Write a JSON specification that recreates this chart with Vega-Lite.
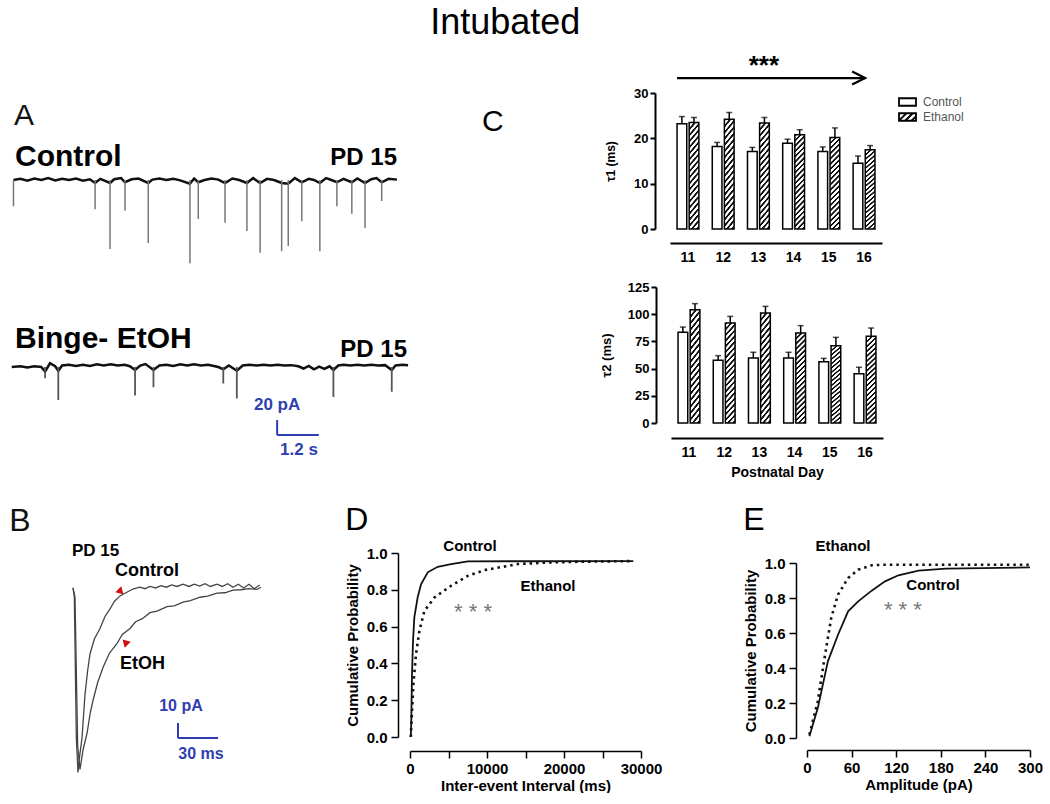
{
  "$schema": "https://vega.github.io/schema/vega-lite/v6.json",
  "padding": {"top": 4, "left": 0, "right": 0, "bottom": 0},
  "background": "white",
  "config": {
    "view": {"stroke": null},
    "font": "Liberation Sans",
    "axis": {"grid": false, "labelFont": "Liberation Sans", "titleFont": "Liberation Sans", "labelFontWeight": "bold", "titleFontWeight": "bold", "labelColor": "#000", "titleColor": "#000", "domainColor": "#000", "tickColor": "#000", "labelFlush": false, "labelOverlap": false},
    "title": {"font": "Liberation Sans", "fontWeight": "normal", "color": "#000"}
  },
  "title": {"text": "Intubated", "fontSize": 36, "anchor": "middle", "offset": 11, "dx": -16},
  "spacing": 11,
  "datasets": {
    "ctrlBase": [
      {"t": 0.10, "v": 0}, {"t": 0.3, "v": 1.5}, {"t": 0.5, "v": -1}, {"t": 0.7, "v": 2}, {"t": 0.9, "v": 0}, {"t": 1.1, "v": 2.5}, {"t": 1.3, "v": -0.5}, {"t": 1.5, "v": 1.5}, {"t": 1.7, "v": 0}, {"t": 1.9, "v": 2}, {"t": 2.1, "v": -1}, {"t": 2.3, "v": 1}, {"t": 2.45, "v": -4}, {"t": 2.6, "v": 1.5}, {"t": 2.88, "v": -4}, {"t": 3.0, "v": 1}, {"t": 3.2, "v": 2.5}, {"t": 3.31, "v": -3}, {"t": 3.5, "v": 1}, {"t": 3.7, "v": 2}, {"t": 3.98, "v": -4}, {"t": 4.1, "v": 0.5}, {"t": 4.3, "v": 2}, {"t": 4.5, "v": 0}, {"t": 4.7, "v": 1.5}, {"t": 4.9, "v": -0.5}, {"t": 5.18, "v": -5}, {"t": 5.3, "v": 2}, {"t": 5.42, "v": -3}, {"t": 5.6, "v": 0}, {"t": 5.8, "v": 2}, {"t": 6.0, "v": 0.5}, {"t": 6.19, "v": -4}, {"t": 6.4, "v": 2}, {"t": 6.6, "v": 0}, {"t": 6.82, "v": -4}, {"t": 7.0, "v": 2.5}, {"t": 7.2, "v": -4}, {"t": 7.4, "v": 1.5}, {"t": 7.6, "v": 0}, {"t": 7.82, "v": -4}, {"t": 8.01, "v": -5}, {"t": 8.2, "v": 2.5}, {"t": 8.4, "v": -3}, {"t": 8.6, "v": 1.5}, {"t": 8.75, "v": 0}, {"t": 8.92, "v": -4}, {"t": 9.1, "v": 2.5}, {"t": 9.25, "v": 0}, {"t": 9.41, "v": -3}, {"t": 9.6, "v": 1.5}, {"t": 9.84, "v": -3}, {"t": 10.0, "v": 2}, {"t": 10.22, "v": -4}, {"t": 10.4, "v": 1}, {"t": 10.55, "v": 2.5}, {"t": 10.70, "v": -3}, {"t": 10.9, "v": 1.5}, {"t": 11.14, "v": 0.5}
    ],
    "ctrlEvents": [
      {"t": 0.10, "amp": -35}, {"t": 2.45, "amp": -39}, {"t": 2.88, "amp": -92}, {"t": 3.31, "amp": -41}, {"t": 3.98, "amp": -84}, {"t": 5.18, "amp": -111}, {"t": 5.42, "amp": -52}, {"t": 6.19, "amp": -57}, {"t": 6.82, "amp": -68}, {"t": 7.20, "amp": -97}, {"t": 7.82, "amp": -95}, {"t": 8.01, "amp": -88}, {"t": 8.40, "amp": -55}, {"t": 8.92, "amp": -95}, {"t": 9.41, "amp": -35}, {"t": 9.84, "amp": -45}, {"t": 10.22, "amp": -64}, {"t": 10.70, "amp": -28}
    ],
    "bingeBase": [
      {"t": 0.05, "v": 0}, {"t": 0.3, "v": 1}, {"t": 0.5, "v": -0.5}, {"t": 0.7, "v": 1}, {"t": 0.9, "v": 0}, {"t": 1.01, "v": -6}, {"t": 1.15, "v": 5}, {"t": 1.3, "v": 1}, {"t": 1.39, "v": -5}, {"t": 1.5, "v": 2}, {"t": 1.7, "v": 3}, {"t": 1.9, "v": 1.5}, {"t": 2.1, "v": 3}, {"t": 2.3, "v": 1.5}, {"t": 2.5, "v": 3.5}, {"t": 2.7, "v": 2}, {"t": 2.9, "v": 3.5}, {"t": 3.1, "v": 2}, {"t": 3.3, "v": 3}, {"t": 3.45, "v": 1}, {"t": 3.6, "v": -4}, {"t": 3.75, "v": 2}, {"t": 3.9, "v": 4}, {"t": 4.13, "v": -4}, {"t": 4.3, "v": 2}, {"t": 4.5, "v": 3}, {"t": 4.7, "v": 1.5}, {"t": 4.9, "v": 3.5}, {"t": 5.1, "v": 2}, {"t": 5.3, "v": 3.5}, {"t": 5.5, "v": 2}, {"t": 5.7, "v": 3}, {"t": 5.9, "v": 1}, {"t": 6.0, "v": 0}, {"t": 6.14, "v": -3}, {"t": 6.3, "v": 2}, {"t": 6.53, "v": -5}, {"t": 6.7, "v": 2}, {"t": 6.9, "v": 3}, {"t": 7.1, "v": 2}, {"t": 7.3, "v": 3}, {"t": 7.5, "v": 2}, {"t": 7.7, "v": 3}, {"t": 7.9, "v": 2}, {"t": 8.1, "v": 2.5}, {"t": 8.3, "v": 1}, {"t": 8.45, "v": -2}, {"t": 8.6, "v": 1.5}, {"t": 8.75, "v": -3}, {"t": 8.9, "v": 0.5}, {"t": 9.05, "v": -2.5}, {"t": 9.2, "v": 1}, {"t": 9.31, "v": -4}, {"t": 9.45, "v": 2}, {"t": 9.6, "v": 3}, {"t": 9.8, "v": 2}, {"t": 10.0, "v": 3}, {"t": 10.2, "v": 2}, {"t": 10.4, "v": 3}, {"t": 10.6, "v": 2}, {"t": 10.8, "v": 2.5}, {"t": 10.99, "v": -4}, {"t": 11.1, "v": 2}, {"t": 11.3, "v": 3}, {"t": 11.46, "v": 2.5}
    ],
    "bingeEvents": [
      {"t": 1.01, "amp": -15}, {"t": 1.39, "amp": -44}, {"t": 3.60, "amp": -38}, {"t": 4.13, "amp": -27}, {"t": 6.14, "amp": -22}, {"t": 6.53, "amp": -42}, {"t": 9.31, "amp": -40}, {"t": 10.99, "amp": -33}
    ],
    "mEPSC": [
      {"trace": "Control", "ms": 0, "pA": 0}, {"trace": "Control", "ms": 1, "pA": -6}, {"trace": "Control", "ms": 2.5, "pA": -100}, {"trace": "Control", "ms": 3.75, "pA": -123}, {"trace": "Control", "ms": 5, "pA": -112}, {"trace": "Control", "ms": 6.75, "pA": -100}, {"trace": "Control", "ms": 9, "pA": -71}, {"trace": "Control", "ms": 11, "pA": -55}, {"trace": "Control", "ms": 12.75, "pA": -44}, {"trace": "Control", "ms": 16, "pA": -34}, {"trace": "Control", "ms": 20.25, "pA": -27}, {"trace": "Control", "ms": 24, "pA": -19}, {"trace": "Control", "ms": 27.75, "pA": -14}, {"trace": "Control", "ms": 31, "pA": -9}, {"trace": "Control", "ms": 35.25, "pA": -5.3}, {"trace": "Control", "ms": 40, "pA": -3}, {"trace": "Control", "ms": 45, "pA": -0.7}, {"trace": "Control", "ms": 50, "pA": 0.5}, {"trace": "Control", "ms": 54, "pA": -0.5}, {"trace": "Control", "ms": 57.75, "pA": 1}, {"trace": "Control", "ms": 62, "pA": 0}, {"trace": "Control", "ms": 66, "pA": 1.5}, {"trace": "Control", "ms": 70, "pA": 0.5}, {"trace": "Control", "ms": 74, "pA": 2}, {"trace": "Control", "ms": 78, "pA": 1}, {"trace": "Control", "ms": 82.5, "pA": 2.5}, {"trace": "Control", "ms": 87, "pA": 1}, {"trace": "Control", "ms": 91, "pA": 2.5}, {"trace": "Control", "ms": 95, "pA": 1.2}, {"trace": "Control", "ms": 99, "pA": 2.8}, {"trace": "Control", "ms": 103, "pA": 1}, {"trace": "Control", "ms": 108, "pA": 2.5}, {"trace": "Control", "ms": 112, "pA": 1}, {"trace": "Control", "ms": 116, "pA": 2.8}, {"trace": "Control", "ms": 120, "pA": 0.5}, {"trace": "Control", "ms": 124, "pA": 2.5}, {"trace": "Control", "ms": 128, "pA": 0}, {"trace": "Control", "ms": 132, "pA": 2.5}, {"trace": "Control", "ms": 136, "pA": -0.5}, {"trace": "Control", "ms": 140, "pA": 2},
      {"trace": "EtOH", "ms": 0, "pA": 0}, {"trace": "EtOH", "ms": 1.5, "pA": -6}, {"trace": "EtOH", "ms": 3.5, "pA": -105}, {"trace": "EtOH", "ms": 5.25, "pA": -121}, {"trace": "EtOH", "ms": 7.5, "pA": -108}, {"trace": "EtOH", "ms": 10.5, "pA": -97}, {"trace": "EtOH", "ms": 13, "pA": -83}, {"trace": "EtOH", "ms": 15, "pA": -75}, {"trace": "EtOH", "ms": 18.5, "pA": -63}, {"trace": "EtOH", "ms": 22.5, "pA": -53}, {"trace": "EtOH", "ms": 27, "pA": -44}, {"trace": "EtOH", "ms": 33, "pA": -37}, {"trace": "EtOH", "ms": 37, "pA": -31}, {"trace": "EtOH", "ms": 42.75, "pA": -27}, {"trace": "EtOH", "ms": 47, "pA": -22.5}, {"trace": "EtOH", "ms": 52, "pA": -20.5}, {"trace": "EtOH", "ms": 57.75, "pA": -16.5}, {"trace": "EtOH", "ms": 63, "pA": -15.5}, {"trace": "EtOH", "ms": 70.5, "pA": -12.5}, {"trace": "EtOH", "ms": 76, "pA": -12}, {"trace": "EtOH", "ms": 82.5, "pA": -9.5}, {"trace": "EtOH", "ms": 88, "pA": -8.5}, {"trace": "EtOH", "ms": 95.25, "pA": -6.2}, {"trace": "EtOH", "ms": 101, "pA": -5.5}, {"trace": "EtOH", "ms": 108, "pA": -3.5}, {"trace": "EtOH", "ms": 114, "pA": -3.2}, {"trace": "EtOH", "ms": 120, "pA": -1.5}, {"trace": "EtOH", "ms": 126, "pA": -1.2}, {"trace": "EtOH", "ms": 132, "pA": -0.5}, {"trace": "EtOH", "ms": 138, "pA": -1}, {"trace": "EtOH", "ms": 141, "pA": 0.5}
    ],
    "tau1": [
      {"day": 11, "group": "Control", "tau": 23.2, "upper": 24.8}, {"day": 11, "group": "Ethanol", "tau": 23.5, "upper": 24.6},
      {"day": 12, "group": "Control", "tau": 18.2, "upper": 19.1}, {"day": 12, "group": "Ethanol", "tau": 24.2, "upper": 25.7},
      {"day": 13, "group": "Control", "tau": 17.1, "upper": 18.0}, {"day": 13, "group": "Ethanol", "tau": 23.4, "upper": 24.6},
      {"day": 14, "group": "Control", "tau": 18.9, "upper": 19.8}, {"day": 14, "group": "Ethanol", "tau": 20.8, "upper": 21.9},
      {"day": 15, "group": "Control", "tau": 17.1, "upper": 18.1}, {"day": 15, "group": "Ethanol", "tau": 20.2, "upper": 22.3},
      {"day": 16, "group": "Control", "tau": 14.5, "upper": 16.1}, {"day": 16, "group": "Ethanol", "tau": 17.5, "upper": 18.4}
    ],
    "tau2": [
      {"day": 11, "group": "Control", "tau": 83.3, "upper": 88.2}, {"day": 11, "group": "Ethanol", "tau": 104.2, "upper": 109.7},
      {"day": 12, "group": "Control", "tau": 57.6, "upper": 61.9}, {"day": 12, "group": "Ethanol", "tau": 91.9, "upper": 98.0},
      {"day": 13, "group": "Control", "tau": 59.7, "upper": 65.0}, {"day": 13, "group": "Ethanol", "tau": 101.1, "upper": 107.2},
      {"day": 14, "group": "Control", "tau": 59.7, "upper": 65.0}, {"day": 14, "group": "Ethanol", "tau": 82.7, "upper": 89.5},
      {"day": 15, "group": "Control", "tau": 56.4, "upper": 59.4}, {"day": 15, "group": "Ethanol", "tau": 71.0, "upper": 78.7},
      {"day": 16, "group": "Control", "tau": 45.3, "upper": 51.2}, {"day": 16, "group": "Ethanol", "tau": 79.7, "upper": 87.3}
    ],
    "iei": [
      {"group": "Control", "ms": 100, "p": 0.0}, {"group": "Control", "ms": 130, "p": 0.03}, {"group": "Control", "ms": 174, "p": 0.10}, {"group": "Control", "ms": 260, "p": 0.34}, {"group": "Control", "ms": 390, "p": 0.52}, {"group": "Control", "ms": 564, "p": 0.65}, {"group": "Control", "ms": 999, "p": 0.76}, {"group": "Control", "ms": 1433, "p": 0.83}, {"group": "Control", "ms": 2301, "p": 0.895}, {"group": "Control", "ms": 3604, "p": 0.925}, {"group": "Control", "ms": 5340, "p": 0.94}, {"group": "Control", "ms": 7511, "p": 0.955}, {"group": "Control", "ms": 29000, "p": 0.956},
      {"group": "Ethanol", "ms": 100, "p": 0.0}, {"group": "Ethanol", "ms": 217, "p": 0.10}, {"group": "Ethanol", "ms": 434, "p": 0.285}, {"group": "Ethanol", "ms": 781, "p": 0.45}, {"group": "Ethanol", "ms": 1216, "p": 0.576}, {"group": "Ethanol", "ms": 1867, "p": 0.685}, {"group": "Ethanol", "ms": 3169, "p": 0.758}, {"group": "Ethanol", "ms": 5340, "p": 0.822}, {"group": "Ethanol", "ms": 7511, "p": 0.876}, {"group": "Ethanol", "ms": 9682, "p": 0.907}, {"group": "Ethanol", "ms": 14024, "p": 0.94}, {"group": "Ethanol", "ms": 18365, "p": 0.949}, {"group": "Ethanol", "ms": 22707, "p": 0.953}, {"group": "Ethanol", "ms": 29000, "p": 0.956}
    ],
    "amp": [
      {"group": "Control", "pA": 3.2, "p": 0.01}, {"group": "Control", "pA": 14.5, "p": 0.171}, {"group": "Control", "pA": 28.1, "p": 0.438}, {"group": "Control", "pA": 41.7, "p": 0.59}, {"group": "Control", "pA": 55.3, "p": 0.724}, {"group": "Control", "pA": 68.9, "p": 0.781}, {"group": "Control", "pA": 87, "p": 0.842}, {"group": "Control", "pA": 105, "p": 0.895}, {"group": "Control", "pA": 123, "p": 0.93}, {"group": "Control", "pA": 150, "p": 0.956}, {"group": "Control", "pA": 187, "p": 0.968}, {"group": "Control", "pA": 300, "p": 0.975},
      {"group": "Ethanol", "pA": 3.2, "p": 0.019}, {"group": "Ethanol", "pA": 14.5, "p": 0.21}, {"group": "Ethanol", "pA": 23.6, "p": 0.457}, {"group": "Ethanol", "pA": 32.6, "p": 0.686}, {"group": "Ethanol", "pA": 41.7, "p": 0.819}, {"group": "Ethanol", "pA": 55.3, "p": 0.914}, {"group": "Ethanol", "pA": 68.9, "p": 0.962}, {"group": "Ethanol", "pA": 87, "p": 0.987}, {"group": "Ethanol", "pA": 105, "p": 0.99}, {"group": "Ethanol", "pA": 300, "p": 0.99}
    ],
    "legendRows": [{"group": "Control"}, {"group": "Ethanol"}]
  },
  "vconcat": [
    {
      "spacing": 16,
      "hconcat": [
        {
          "width": 466, "height": 177,
          "layer": [
            {"data": {"name": "ctrlBase"}, "mark": {"type": "line", "color": "#111", "strokeWidth": 2.5},
             "encoding": {"x": {"field": "t", "type": "quantitative", "scale": {"domain": [-0.288, 13.127], "nice": false, "zero": false}, "axis": null},
                          "y": {"field": "v", "type": "quantitative", "scale": {"domain": [-120, 116], "nice": false, "zero": false}, "axis": null}}},
            {"data": {"name": "ctrlEvents"}, "mark": {"type": "rule", "color": "#777", "strokeWidth": 1.5},
             "encoding": {"x": {"field": "t", "type": "quantitative"}, "y": {"field": "amp", "type": "quantitative"}, "y2": {"datum": 0}}},
            {"data": {"values": [{}]}, "mark": {"type": "text", "text": "A", "fontSize": 30, "align": "center", "baseline": "middle", "color": "#111"},
             "encoding": {"x": {"datum": 0.4}, "y": {"datum": 85}}},
            {"data": {"values": [{}]}, "mark": {"type": "text", "text": "Control", "fontSize": 30, "fontWeight": "bold", "align": "left", "baseline": "middle", "color": "#000"},
             "encoding": {"x": {"datum": 0.144}, "y": {"datum": 30.7}}},
            {"data": {"values": [{}]}, "mark": {"type": "text", "text": "PD 15", "fontSize": 24, "fontWeight": "bold", "align": "right", "baseline": "middle", "color": "#000"},
             "encoding": {"x": {"datum": 11.14}, "y": {"datum": 29.3}}}
          ]
        },
        {
          "width": 212, "height": 136,
          "title": {"text": "C", "anchor": "start", "frame": "group", "fontSize": 30, "dx": -188, "dy": 84, "offset": 0},
          "data": {"name": "tau1"},
          "layer": [
            {"transform": [{"filter": "datum.group === 'Control'"}],
             "mark": {"type": "bar", "fill": "white", "stroke": "black", "strokeWidth": 1.5},
             "encoding": {
               "x": {"field": "day", "type": "ordinal", "scale": {"paddingInner": 0.38, "paddingOuter": 0.2}, "axis": {"title": null, "labelAngle": 0, "ticks": false, "offset": 14, "domainWidth": 2, "labelFontSize": 14, "labelPadding": 7, "labelOverlap": false}},
               "xOffset": {"field": "group", "type": "nominal", "scale": {"domain": ["Control", "Ethanol"], "paddingInner": 0.2}},
               "y": {"field": "tau", "type": "quantitative", "scale": {"domain": [0, 30], "nice": false}, "axis": {"title": "τ1 (ms)", "values": [0, 10, 20, 30], "tickCount": 20, "offset": 15, "tickSize": 5, "tickWidth": 2, "domainWidth": 2, "labelFontSize": 13, "titleFontSize": 12, "labelPadding": 2, "titlePadding": 16, "labelOverlap": false}}
             }},
            {"transform": [{"filter": "datum.group === 'Ethanol'"}],
             "mark": {"type": "bar", "stroke": "black", "strokeWidth": 1.5, "fill": {"gradient": "linear", "x1": 0, "y1": 0, "x2": 0.12, "y2": 1.12, "stops": [{"offset": 0, "color": "#111"}, {"offset": 0.016, "color": "#111"}, {"offset": 0.022, "color": "#fff"}, {"offset": 0.044, "color": "#fff"}, {"offset": 0.05, "color": "#111"}, {"offset": 0.066, "color": "#111"}, {"offset": 0.072, "color": "#fff"}, {"offset": 0.094, "color": "#fff"}, {"offset": 0.1, "color": "#111"}, {"offset": 0.116, "color": "#111"}, {"offset": 0.122, "color": "#fff"}, {"offset": 0.144, "color": "#fff"}, {"offset": 0.15, "color": "#111"}, {"offset": 0.166, "color": "#111"}, {"offset": 0.172, "color": "#fff"}, {"offset": 0.194, "color": "#fff"}, {"offset": 0.2, "color": "#111"}, {"offset": 0.216, "color": "#111"}, {"offset": 0.222, "color": "#fff"}, {"offset": 0.244, "color": "#fff"}, {"offset": 0.25, "color": "#111"}, {"offset": 0.266, "color": "#111"}, {"offset": 0.272, "color": "#fff"}, {"offset": 0.294, "color": "#fff"}, {"offset": 0.3, "color": "#111"}, {"offset": 0.316, "color": "#111"}, {"offset": 0.322, "color": "#fff"}, {"offset": 0.344, "color": "#fff"}, {"offset": 0.35, "color": "#111"}, {"offset": 0.366, "color": "#111"}, {"offset": 0.372, "color": "#fff"}, {"offset": 0.394, "color": "#fff"}, {"offset": 0.4, "color": "#111"}, {"offset": 0.416, "color": "#111"}, {"offset": 0.422, "color": "#fff"}, {"offset": 0.444, "color": "#fff"}, {"offset": 0.45, "color": "#111"}, {"offset": 0.466, "color": "#111"}, {"offset": 0.472, "color": "#fff"}, {"offset": 0.494, "color": "#fff"}, {"offset": 0.5, "color": "#111"}, {"offset": 0.516, "color": "#111"}, {"offset": 0.522, "color": "#fff"}, {"offset": 0.544, "color": "#fff"}, {"offset": 0.55, "color": "#111"}, {"offset": 0.566, "color": "#111"}, {"offset": 0.572, "color": "#fff"}, {"offset": 0.594, "color": "#fff"}, {"offset": 0.6, "color": "#111"}, {"offset": 0.616, "color": "#111"}, {"offset": 0.622, "color": "#fff"}, {"offset": 0.644, "color": "#fff"}, {"offset": 0.65, "color": "#111"}, {"offset": 0.666, "color": "#111"}, {"offset": 0.672, "color": "#fff"}, {"offset": 0.694, "color": "#fff"}, {"offset": 0.7, "color": "#111"}, {"offset": 0.716, "color": "#111"}, {"offset": 0.722, "color": "#fff"}, {"offset": 0.744, "color": "#fff"}, {"offset": 0.75, "color": "#111"}, {"offset": 0.766, "color": "#111"}, {"offset": 0.772, "color": "#fff"}, {"offset": 0.794, "color": "#fff"}, {"offset": 0.8, "color": "#111"}, {"offset": 0.816, "color": "#111"}, {"offset": 0.822, "color": "#fff"}, {"offset": 0.844, "color": "#fff"}, {"offset": 0.85, "color": "#111"}, {"offset": 0.866, "color": "#111"}, {"offset": 0.872, "color": "#fff"}, {"offset": 0.894, "color": "#fff"}, {"offset": 0.9, "color": "#111"}, {"offset": 0.916, "color": "#111"}, {"offset": 0.922, "color": "#fff"}, {"offset": 0.944, "color": "#fff"}, {"offset": 0.95, "color": "#111"}, {"offset": 0.966, "color": "#111"}, {"offset": 0.972, "color": "#fff"}, {"offset": 1, "color": "#fff"}]}},
             "encoding": {
               "x": {"field": "day", "type": "ordinal"},
               "xOffset": {"field": "group", "type": "nominal"},
               "y": {"field": "tau", "type": "quantitative"}
             }},
            {"mark": {"type": "rule", "strokeWidth": 1.5, "color": "black"},
             "encoding": {"x": {"field": "day", "type": "ordinal"}, "xOffset": {"field": "group", "type": "nominal"}, "y": {"field": "tau", "type": "quantitative"}, "y2": {"field": "upper"}}},
            {"mark": {"type": "tick", "orient": "horizontal", "size": 6, "thickness": 1.5, "color": "black"},
             "encoding": {"x": {"field": "day", "type": "ordinal"}, "xOffset": {"field": "group", "type": "nominal"}, "y": {"field": "upper", "type": "quantitative"}}},
            {"data": {"values": [{}]}, "mark": {"type": "rule", "color": "black", "strokeWidth": 2.2},
             "encoding": {"x": {"datum": 11, "type": "ordinal", "bandPosition": 0}, "x2": {"datum": 16, "bandPosition": 0.55}, "y": {"datum": 33.3}}},
            {"data": {"values": [{}]}, "mark": {"type": "point", "shape": "M-2,-1L0,0L-2,1", "filled": false, "stroke": "black", "strokeWidth": 2.2, "size": 169, "opacity": 1},
             "encoding": {"x": {"datum": 16, "type": "ordinal", "bandPosition": 0.55}, "y": {"datum": 33.3}}},
            {"data": {"values": [{}]}, "mark": {"type": "text", "text": "***", "fontSize": 26, "fontWeight": "bold", "align": "center", "baseline": "middle", "color": "#000"},
             "encoding": {"x": {"datum": 13, "type": "ordinal", "bandPosition": 0.75}, "y": {"datum": 36.0}}}
          ]
        },
        {
          "width": 70, "height": 33,
          "data": {"name": "legendRows"},
          "layer": [
            {"transform": [{"filter": "datum.group === 'Control'"}],
             "mark": {"type": "bar", "fill": "white", "stroke": "black", "strokeWidth": 1.8},
             "encoding": {
               "y": {"field": "group", "type": "nominal", "scale": {"domain": ["Control", "Ethanol"], "paddingInner": 0.5, "paddingOuter": 0.35}, "axis": null},
               "x": {"datum": 0, "type": "quantitative", "scale": {"domain": [0, 70], "nice": false, "zero": false}, "axis": null},
               "x2": {"datum": 17}
             }},
            {"transform": [{"filter": "datum.group === 'Ethanol'"}],
             "mark": {"type": "bar", "stroke": "black", "strokeWidth": 1.8, "fill": {"gradient": "linear", "x1": 0, "y1": 0, "x2": 1.25, "y2": 0.56, "stops": [{"offset": 0, "color": "#111"}, {"offset": 0.08, "color": "#111"}, {"offset": 0.11, "color": "#fff"}, {"offset": 0.22, "color": "#fff"}, {"offset": 0.25, "color": "#111"}, {"offset": 0.33, "color": "#111"}, {"offset": 0.36, "color": "#fff"}, {"offset": 0.47, "color": "#fff"}, {"offset": 0.5, "color": "#111"}, {"offset": 0.58, "color": "#111"}, {"offset": 0.61, "color": "#fff"}, {"offset": 0.72, "color": "#fff"}, {"offset": 0.75, "color": "#111"}, {"offset": 0.83, "color": "#111"}, {"offset": 0.86, "color": "#fff"}, {"offset": 1, "color": "#fff"}]}},
             "encoding": {
               "y": {"field": "group", "type": "nominal"},
               "x": {"datum": 0, "type": "quantitative"},
               "x2": {"datum": 17}
             }},
            {"mark": {"type": "text", "align": "left", "baseline": "middle", "fontSize": 12, "color": "#555", "font": "Liberation Sans"},
             "encoding": {
               "y": {"field": "group", "type": "nominal"},
               "x": {"datum": 24, "type": "quantitative"},
               "text": {"field": "group", "type": "nominal"}
             }}
          ]
        }
      ]
    },
    {
      "spacing": 186,
      "hconcat": [
        {
          "width": 406, "height": 206,
          "layer": [
            {"data": {"name": "bingeBase"}, "mark": {"type": "line", "color": "#111", "strokeWidth": 2.5},
             "encoding": {"x": {"field": "t", "type": "quantitative", "scale": {"domain": [-0.288, 11.4], "nice": false, "zero": false}, "axis": null},
                          "y": {"field": "v", "type": "quantitative", "scale": {"domain": [-168, 106.7], "nice": false, "zero": false}, "axis": null}}},
            {"data": {"name": "bingeEvents"}, "mark": {"type": "rule", "color": "#555", "strokeWidth": 1.8},
             "encoding": {"x": {"field": "t", "type": "quantitative"}, "y": {"field": "amp", "type": "quantitative"}, "y2": {"datum": 0}}},
            {"data": {"values": [{}]}, "mark": {"type": "text", "text": "Binge- EtOH", "fontSize": 30, "fontWeight": "bold", "align": "left", "baseline": "middle", "color": "#000"},
             "encoding": {"x": {"datum": 0.144}, "y": {"datum": 37.3}}},
            {"data": {"values": [{}]}, "mark": {"type": "text", "text": "PD 15", "fontSize": 24, "fontWeight": "bold", "align": "right", "baseline": "middle", "color": "#000"},
             "encoding": {"x": {"datum": 11.43}, "y": {"datum": 22.7}}},
            {"data": {"values": [{}]}, "mark": {"type": "rule", "color": "#2f3fb0", "strokeWidth": 2},
             "encoding": {"x": {"datum": 7.69}, "y": {"datum": -70.7}, "y2": {"datum": -90.7}}},
            {"data": {"values": [{}]}, "mark": {"type": "rule", "color": "#2f3fb0", "strokeWidth": 2},
             "encoding": {"x": {"datum": 7.69}, "x2": {"datum": 8.89}, "y": {"datum": -90.7}}},
            {"data": {"values": [{}]}, "mark": {"type": "text", "text": "20 pA", "fontSize": 17, "fontWeight": "bold", "align": "center", "baseline": "middle", "color": "#2f3fb0"},
             "encoding": {"x": {"datum": 7.69}, "y": {"datum": -50.7}}},
            {"data": {"values": [{}]}, "mark": {"type": "text", "text": "1.2 s", "fontSize": 17, "fontWeight": "bold", "align": "center", "baseline": "middle", "color": "#2f3fb0"},
             "encoding": {"x": {"datum": 8.32}, "y": {"datum": -110.7}}}
          ]
        },
        {
          "width": 212, "height": 136,
          "data": {"name": "tau2"},
          "layer": [
            {"transform": [{"filter": "datum.group === 'Control'"}],
             "mark": {"type": "bar", "fill": "white", "stroke": "black", "strokeWidth": 1.5},
             "encoding": {
               "x": {"field": "day", "type": "ordinal", "scale": {"paddingInner": 0.38, "paddingOuter": 0.2}, "axis": {"title": "Postnatal Day", "titleFontSize": 14, "titlePadding": 6, "labelAngle": 0, "ticks": false, "offset": 15, "domainWidth": 2, "labelFontSize": 14, "labelPadding": 7, "labelOverlap": false}},
               "xOffset": {"field": "group", "type": "nominal", "scale": {"domain": ["Control", "Ethanol"], "paddingInner": 0.2}},
               "y": {"field": "tau", "type": "quantitative", "scale": {"domain": [0, 125], "nice": false}, "axis": {"title": "τ2 (ms)", "values": [0, 25, 50, 75, 100, 125], "tickCount": 20, "offset": 15, "tickSize": 5, "tickWidth": 2, "domainWidth": 2, "labelFontSize": 13, "titleFontSize": 13, "labelPadding": 2, "titlePadding": 14, "labelOverlap": false}}
             }},
            {"transform": [{"filter": "datum.group === 'Ethanol'"}],
             "mark": {"type": "bar", "stroke": "black", "strokeWidth": 1.5, "fill": {"gradient": "linear", "x1": 0, "y1": 0, "x2": 0.12, "y2": 1.12, "stops": [{"offset": 0, "color": "#111"}, {"offset": 0.016, "color": "#111"}, {"offset": 0.022, "color": "#fff"}, {"offset": 0.044, "color": "#fff"}, {"offset": 0.05, "color": "#111"}, {"offset": 0.066, "color": "#111"}, {"offset": 0.072, "color": "#fff"}, {"offset": 0.094, "color": "#fff"}, {"offset": 0.1, "color": "#111"}, {"offset": 0.116, "color": "#111"}, {"offset": 0.122, "color": "#fff"}, {"offset": 0.144, "color": "#fff"}, {"offset": 0.15, "color": "#111"}, {"offset": 0.166, "color": "#111"}, {"offset": 0.172, "color": "#fff"}, {"offset": 0.194, "color": "#fff"}, {"offset": 0.2, "color": "#111"}, {"offset": 0.216, "color": "#111"}, {"offset": 0.222, "color": "#fff"}, {"offset": 0.244, "color": "#fff"}, {"offset": 0.25, "color": "#111"}, {"offset": 0.266, "color": "#111"}, {"offset": 0.272, "color": "#fff"}, {"offset": 0.294, "color": "#fff"}, {"offset": 0.3, "color": "#111"}, {"offset": 0.316, "color": "#111"}, {"offset": 0.322, "color": "#fff"}, {"offset": 0.344, "color": "#fff"}, {"offset": 0.35, "color": "#111"}, {"offset": 0.366, "color": "#111"}, {"offset": 0.372, "color": "#fff"}, {"offset": 0.394, "color": "#fff"}, {"offset": 0.4, "color": "#111"}, {"offset": 0.416, "color": "#111"}, {"offset": 0.422, "color": "#fff"}, {"offset": 0.444, "color": "#fff"}, {"offset": 0.45, "color": "#111"}, {"offset": 0.466, "color": "#111"}, {"offset": 0.472, "color": "#fff"}, {"offset": 0.494, "color": "#fff"}, {"offset": 0.5, "color": "#111"}, {"offset": 0.516, "color": "#111"}, {"offset": 0.522, "color": "#fff"}, {"offset": 0.544, "color": "#fff"}, {"offset": 0.55, "color": "#111"}, {"offset": 0.566, "color": "#111"}, {"offset": 0.572, "color": "#fff"}, {"offset": 0.594, "color": "#fff"}, {"offset": 0.6, "color": "#111"}, {"offset": 0.616, "color": "#111"}, {"offset": 0.622, "color": "#fff"}, {"offset": 0.644, "color": "#fff"}, {"offset": 0.65, "color": "#111"}, {"offset": 0.666, "color": "#111"}, {"offset": 0.672, "color": "#fff"}, {"offset": 0.694, "color": "#fff"}, {"offset": 0.7, "color": "#111"}, {"offset": 0.716, "color": "#111"}, {"offset": 0.722, "color": "#fff"}, {"offset": 0.744, "color": "#fff"}, {"offset": 0.75, "color": "#111"}, {"offset": 0.766, "color": "#111"}, {"offset": 0.772, "color": "#fff"}, {"offset": 0.794, "color": "#fff"}, {"offset": 0.8, "color": "#111"}, {"offset": 0.816, "color": "#111"}, {"offset": 0.822, "color": "#fff"}, {"offset": 0.844, "color": "#fff"}, {"offset": 0.85, "color": "#111"}, {"offset": 0.866, "color": "#111"}, {"offset": 0.872, "color": "#fff"}, {"offset": 0.894, "color": "#fff"}, {"offset": 0.9, "color": "#111"}, {"offset": 0.916, "color": "#111"}, {"offset": 0.922, "color": "#fff"}, {"offset": 0.944, "color": "#fff"}, {"offset": 0.95, "color": "#111"}, {"offset": 0.966, "color": "#111"}, {"offset": 0.972, "color": "#fff"}, {"offset": 1, "color": "#fff"}]}},
             "encoding": {
               "x": {"field": "day", "type": "ordinal"},
               "xOffset": {"field": "group", "type": "nominal"},
               "y": {"field": "tau", "type": "quantitative"}
             }},
            {"mark": {"type": "rule", "strokeWidth": 1.5, "color": "black"},
             "encoding": {"x": {"field": "day", "type": "ordinal"}, "xOffset": {"field": "group", "type": "nominal"}, "y": {"field": "tau", "type": "quantitative"}, "y2": {"field": "upper"}}},
            {"mark": {"type": "tick", "orient": "horizontal", "size": 6, "thickness": 1.5, "color": "black"},
             "encoding": {"x": {"field": "day", "type": "ordinal"}, "xOffset": {"field": "group", "type": "nominal"}, "y": {"field": "upper", "type": "quantitative"}}}
          ]
        }
      ]
    },
    {
      "spacing": 81,
      "hconcat": [
        {
          "width": 264, "height": 233,
          "layer": [
            {"data": {"name": "mEPSC"}, "mark": {"type": "line", "color": "#444", "strokeWidth": 1.3},
             "encoding": {"x": {"field": "ms", "type": "quantitative", "scale": {"domain": [-54.75, 143.25], "nice": false, "zero": false}, "axis": null},
                          "y": {"field": "pA", "type": "quantitative", "scale": {"domain": [-132, 23.3], "nice": false, "zero": false}, "axis": null},
                          "detail": {"field": "trace", "type": "nominal"}}},
            {"data": {"values": [{}]}, "mark": {"type": "point", "shape": "triangle", "filled": true, "color": "#d01010", "size": 70, "angle": 135, "opacity": 1},
             "encoding": {"x": {"datum": 35.25}, "y": {"datum": -2}}},
            {"data": {"values": [{}]}, "mark": {"type": "point", "shape": "triangle", "filled": true, "color": "#d01010", "size": 70, "angle": 315, "opacity": 1},
             "encoding": {"x": {"datum": 39.75}, "y": {"datum": -36.7}}},
            {"data": {"values": [{}]}, "mark": {"type": "text", "text": "B", "fontSize": 32, "align": "center", "baseline": "middle", "color": "#111"},
             "encoding": {"x": {"datum": -39.75}, "y": {"datum": 44.7}}},
            {"data": {"values": [{}]}, "mark": {"type": "text", "text": "PD 15", "fontSize": 17, "fontWeight": "bold", "align": "left", "baseline": "middle", "color": "#000"},
             "encoding": {"x": {"datum": -0.75}, "y": {"datum": 24.7}}},
            {"data": {"values": [{}]}, "mark": {"type": "text", "text": "Control", "fontSize": 18, "fontWeight": "bold", "align": "left", "baseline": "middle", "color": "#000"},
             "encoding": {"x": {"datum": 31.5}, "y": {"datum": 11.3}}},
            {"data": {"values": [{}]}, "mark": {"type": "text", "text": "EtOH", "fontSize": 18, "fontWeight": "bold", "align": "left", "baseline": "middle", "color": "#000"},
             "encoding": {"x": {"datum": 35.25}, "y": {"datum": -50.7}}},
            {"data": {"values": [{}]}, "mark": {"type": "rule", "color": "#2f3fb0", "strokeWidth": 2},
             "encoding": {"x": {"datum": 78.75}, "y": {"datum": -90}, "y2": {"datum": -100}}},
            {"data": {"values": [{}]}, "mark": {"type": "rule", "color": "#2f3fb0", "strokeWidth": 2},
             "encoding": {"x": {"datum": 78.75}, "x2": {"datum": 108.75}, "y": {"datum": -100}}},
            {"data": {"values": [{}]}, "mark": {"type": "text", "text": "10 pA", "fontSize": 16, "fontWeight": "bold", "align": "center", "baseline": "middle", "color": "#2f3fb0"},
             "encoding": {"x": {"datum": 81}, "y": {"datum": -78.7}}},
            {"data": {"values": [{}]}, "mark": {"type": "text", "text": "30 ms", "fontSize": 16, "fontWeight": "bold", "align": "center", "baseline": "middle", "color": "#2f3fb0"},
             "encoding": {"x": {"datum": 96}, "y": {"datum": -110.7}}}
          ]
        },
        {
          "width": 231, "height": 184,
          "title": {"text": "D", "anchor": "start", "frame": "bounds", "fontSize": 32, "offset": 2},
          "layer": [
            {"data": {"name": "iei"}, "transform": [{"filter": "datum.group === 'Control'"}],
             "mark": {"type": "line", "color": "#111", "strokeWidth": 1.8},
             "encoding": {
               "x": {"field": "ms", "type": "quantitative", "scale": {"domain": [0, 30000], "nice": false}, "axis": {"title": "Inter-event Interval (ms)", "values": [0, 5000, 10000, 15000, 20000, 25000, 30000], "tickCount": 20, "format": "d", "labelExpr": "datum.value % 10000 === 0 ? datum.label : ''", "offset": 14, "tickSize": 7, "tickWidth": 1.5, "domainWidth": 1.5, "labelFontSize": 15, "titleFontSize": 15, "labelPadding": 3, "titlePadding": 2, "labelOverlap": false, "labelFlush": false}},
               "y": {"field": "p", "type": "quantitative", "scale": {"domain": [0, 1], "nice": false}, "axis": {"title": "Cumulative Probability", "values": [0, 0.2, 0.4, 0.6, 0.8, 1], "tickCount": 20, "format": ".1f", "offset": 12, "tickSize": 7, "tickWidth": 1.5, "domainWidth": 1.5, "labelFontSize": 15, "titleFontSize": 15, "labelPadding": 4, "titlePadding": 6, "labelOverlap": false, "labelFlush": false}}
             }},
            {"data": {"name": "iei"}, "transform": [{"filter": "datum.group === 'Ethanol'"}],
             "mark": {"type": "line", "color": "#111", "strokeWidth": 2.6, "strokeDash": [2.5, 4]},
             "encoding": {"x": {"field": "ms", "type": "quantitative"}, "y": {"field": "p", "type": "quantitative"}}},
            {"data": {"values": [{}]}, "mark": {"type": "text", "text": "Control", "fontSize": 15, "fontWeight": "bold", "align": "center", "baseline": "middle", "color": "#000"},
             "encoding": {"x": {"datum": 7792}, "y": {"datum": 1.038}}},
            {"data": {"values": [{}]}, "mark": {"type": "text", "text": "Ethanol", "fontSize": 15, "fontWeight": "bold", "align": "center", "baseline": "middle", "color": "#000"},
             "encoding": {"x": {"datum": 17922}, "y": {"datum": 0.82}}},
            {"data": {"values": [{}]}, "mark": {"type": "text", "text": "* * *", "fontSize": 22, "align": "center", "baseline": "middle", "color": "#777"},
             "encoding": {"x": {"datum": 8182}, "y": {"datum": 0.68}}}
          ]
        },
        {
          "width": 223, "height": 185,
          "title": {"text": "E", "anchor": "start", "frame": "bounds", "fontSize": 32, "offset": 2},
          "layer": [
            {"data": {"name": "amp"}, "transform": [{"filter": "datum.group === 'Control'"}],
             "mark": {"type": "line", "color": "#111", "strokeWidth": 1.8},
             "encoding": {
               "x": {"field": "pA", "type": "quantitative", "scale": {"domain": [0, 300], "nice": false}, "axis": {"title": "Amplitude (pA)", "values": [0, 60, 120, 180, 240, 300], "tickCount": 20, "offset": 12, "tickSize": 7, "tickWidth": 1.5, "domainWidth": 1.5, "labelFontSize": 15, "titleFontSize": 15, "labelPadding": 3, "titlePadding": 2, "labelOverlap": false, "labelFlush": false}},
               "y": {"field": "p", "type": "quantitative", "scale": {"domain": [0, 1], "nice": false, "range": [185, 10]}, "axis": {"title": "Cumulative Probability", "values": [0, 0.2, 0.4, 0.6, 0.8, 1], "tickCount": 20, "format": ".1f", "offset": 11, "tickSize": 7, "tickWidth": 1.5, "domainWidth": 1.5, "labelFontSize": 15, "titleFontSize": 15, "labelPadding": 4, "titlePadding": 6, "labelOverlap": false, "labelFlush": false}}
             }},
            {"data": {"name": "amp"}, "transform": [{"filter": "datum.group === 'Ethanol'"}],
             "mark": {"type": "line", "color": "#111", "strokeWidth": 2.6, "strokeDash": [2.5, 4]},
             "encoding": {"x": {"field": "pA", "type": "quantitative"}, "y": {"field": "p", "type": "quantitative"}}},
            {"data": {"values": [{}]}, "mark": {"type": "text", "text": "Ethanol", "fontSize": 15, "fontWeight": "bold", "align": "center", "baseline": "middle", "color": "#000"},
             "encoding": {"x": {"datum": 48.4}, "y": {"datum": 1.097}}},
            {"data": {"values": [{}]}, "mark": {"type": "text", "text": "Control", "fontSize": 15, "fontWeight": "bold", "align": "center", "baseline": "middle", "color": "#000"},
             "encoding": {"x": {"datum": 169.5}, "y": {"datum": 0.874}}},
            {"data": {"values": [{}]}, "mark": {"type": "text", "text": "* * *", "fontSize": 22, "align": "center", "baseline": "middle", "color": "#777"},
             "encoding": {"x": {"datum": 129}, "y": {"datum": 0.73}}}
          ]
        }
      ]
    }
  ]
}
